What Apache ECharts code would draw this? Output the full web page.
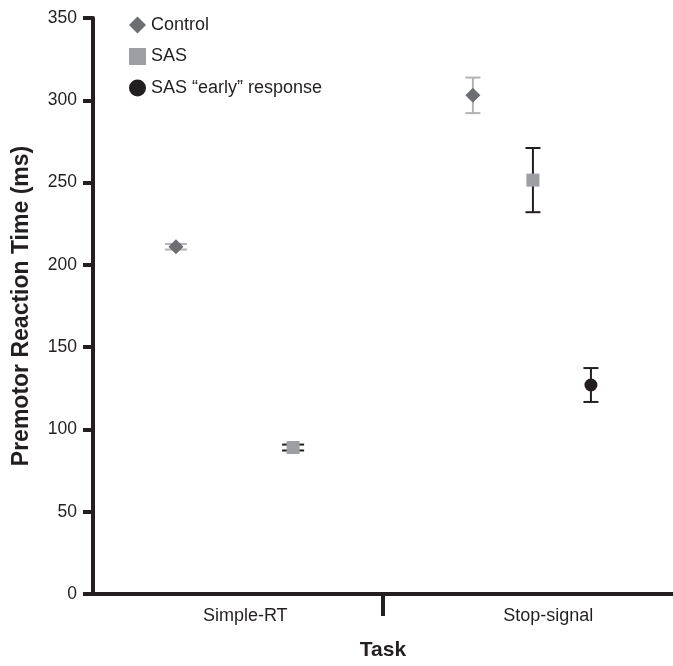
<!DOCTYPE html>
<html><head><meta charset="utf-8">
<script src="https://cdn.jsdelivr.net/npm/echarts@6/dist/echarts.min.js"></script>
<style>html,body{margin:0;padding:0;background:#fff}#c{width:673px;height:666px}</style>
</head><body><div id="c"></div>
<script>
// ---- data ----
const categories = ['Simple-RT', 'Stop-signal'];
const seriesNames = ['Control', 'SAS', 'SAS \u201cearly\u201d response'];
const controlMean = [211, 303];
const controlErr = [1.7, 10.8];
const sasMean = [89, 251.5];
const sasErr = [1.8, 19.5];
const earlyMean = [null, 127];
const earlyErr = [null, 10.3];
const yTicks = [0, 50, 100, 150, 200, 250, 300, 350];

// ---- layout / style (positions within each category group) ----
const groupOffsets = { control: [-0.214, -0.19], sas: [0.19, 0.017], early: [null, 0.217] };
const labelPositions = [0.525, 1.57];
const dark = '#231f20';
const font = 'Liberation Sans, Arial, Helvetica, sans-serif';

function pts(mean, off) {
  const out = [];
  mean.forEach((m, i) => { if (m != null) out.push([i + 0.5 + off[i], m]); });
  return out;
}
function errs(mean, err, off) {
  const out = [];
  mean.forEach((m, i) => { if (m != null) out.push([i + 0.5 + off[i], m - err[i], m + err[i]]); });
  return out;
}
function errSeries(data, color, capW, name) {
  return {
    type: 'custom', name: name, z: 1, silent: true,
    renderItem: function (params, api) {
      const p1 = api.coord([api.value(0), api.value(1)]);
      const p2 = api.coord([api.value(0), api.value(2)]);
      const st = { stroke: color, lineWidth: 2 };
      return { type: 'group', children: [
        { type: 'line', shape: { x1: p1[0], y1: p1[1], x2: p2[0], y2: p2[1] }, style: st },
        { type: 'line', shape: { x1: p1[0] - capW / 2, y1: p1[1], x2: p1[0] + capW / 2, y2: p1[1] }, style: st },
        { type: 'line', shape: { x1: p2[0] - capW / 2, y1: p2[1], x2: p2[0] + capW / 2, y2: p2[1] }, style: st }
      ]};
    },
    encode: { x: 0, y: [1, 2] },
    data: data
  };
}

const chart = echarts.init(document.getElementById('c'), null, { renderer: 'canvas' });
chart.setOption({
  animation: false,
  textStyle: { fontFamily: font },
  grid: { left: 93, right: 0, top: 18, bottom: 70 },
  legend: {
    orient: 'vertical', left: 124, top: 11, itemGap: 13.5,
    itemWidth: 17, itemHeight: 17,
    textStyle: { fontSize: 18, color: dark, fontFamily: font },
    data: seriesNames
  },
  xAxis: {
    type: 'value', min: 0, max: 2, interval: 1,
    name: 'Task', nameLocation: 'middle', nameGap: 46,
    nameTextStyle: { fontSize: 21, fontWeight: 'bold', color: dark, fontFamily: font },
    axisLine: { lineStyle: { color: dark, width: 4 } },
    axisTick: { show: true, length: 22, lineStyle: { color: dark, width: 4 }, customValues: [1] },
    axisLabel: { fontSize: 18, color: dark, margin: 13, customValues: labelPositions,
      formatter: function (v) { return v < 1 ? categories[0] : categories[1]; } },
    splitLine: { show: false }
  },
  yAxis: {
    type: 'value', min: 0, max: 350, interval: 50,
    name: 'Premotor Reaction Time (ms)', nameLocation: 'middle', nameGap: 60,
    nameTextStyle: { fontSize: 23, fontWeight: 'bold', color: dark, fontFamily: font },
    axisLine: { show: true, lineStyle: { color: dark, width: 4 } },
    axisTick: { show: true, length: 10, lineStyle: { color: dark, width: 4 } },
    axisLabel: { fontSize: 17.5, color: dark, margin: 16,
      formatter: function (v) { return yTicks.indexOf(v) >= 0 ? String(v) : ''; } },
    splitLine: { show: false }
  },
  series: [
    errSeries(errs(controlMean, controlErr, groupOffsets.control).slice(0, 1), '#b3b3b3', 22, 'e1'),
    errSeries(errs(controlMean, controlErr, groupOffsets.control).slice(1), '#b3b3b3', 15, 'e2'),
    errSeries(errs(sasMean, sasErr, groupOffsets.sas).slice(0, 1), dark, 22, 'e3'),
    errSeries(errs(sasMean, sasErr, groupOffsets.sas).slice(1), dark, 15, 'e4'),
    errSeries(errs(earlyMean, earlyErr, groupOffsets.early), dark, 15, 'e5'),
    { name: seriesNames[0], type: 'scatter', symbol: 'diamond', symbolSize: 15, z: 3,
      itemStyle: { color: '#6d6e71', opacity: 1 }, data: pts(controlMean, groupOffsets.control) },
    { name: seriesNames[1], type: 'scatter', symbol: 'rect', symbolSize: 13, z: 3,
      itemStyle: { color: '#9d9fa2', opacity: 1 }, data: pts(sasMean, groupOffsets.sas) },
    { name: seriesNames[2], type: 'scatter', symbol: 'circle', symbolSize: 13, z: 3,
      itemStyle: { color: dark, opacity: 1 }, data: pts(earlyMean, groupOffsets.early) }
  ]
});
</script></body></html>
